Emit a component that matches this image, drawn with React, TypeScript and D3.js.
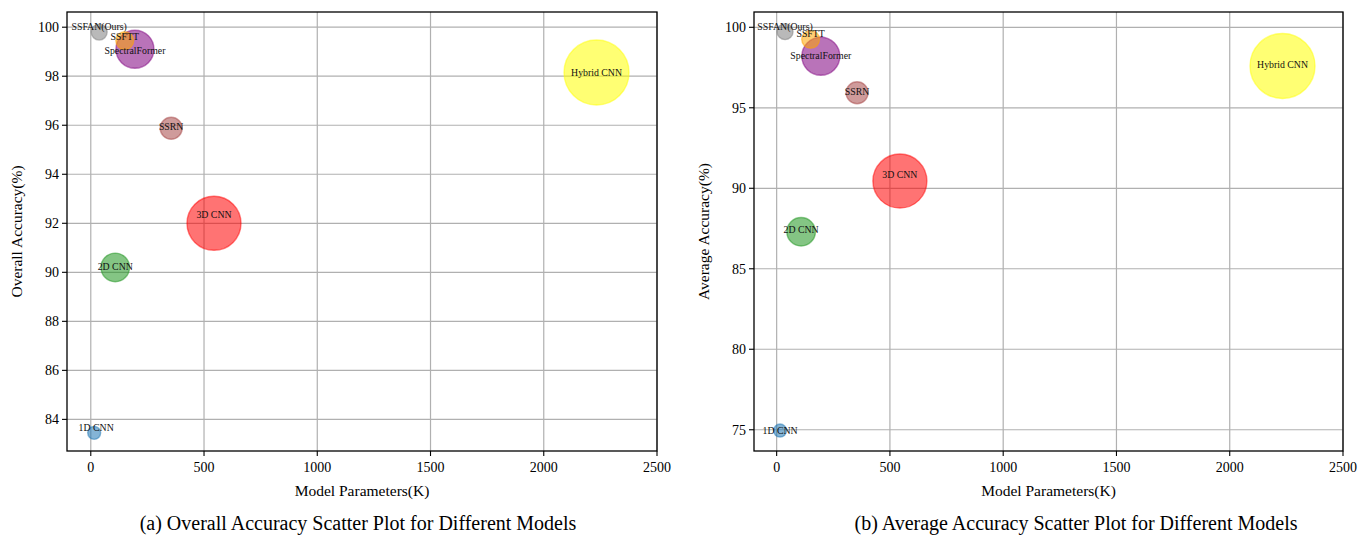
import React from "react";
import * as d3 from "d3";

const models = ["1D CNN", "2D CNN", "3D CNN", "Hybrid CNN", "SSRN", "SpectralFormer", "SSFTT", "SSFAN(Ours)"];
const params = [15, 108, 544, 2233, 355, 195, 150, 37];
const overallAcc = [83.45, 90.2, 92.0, 98.15, 95.88, 99.1, 99.45, 99.8];
const averageAcc = [74.95, 87.3, 90.45, 97.6, 95.93, 98.2, 99.25, 99.73];
const bubbleSize = [42, 204, 729, 1056, 121, 361, 80, 64];
const colors = ["#1f77b4", "#1f961f", "#ff0000", "#ffff00", "#a84848", "#800080", "#ffa500", "#808080"];
const labelDyOA = [-2, 3, -5, 3, 2, 5, -1, -2];
const labelDyAA = [3, 1, -3, 2, 2, 3, -2, -2];
const labelDxOA = [2, 0, 0, 0, 0, 0, 0, 0];
const xTicks = [0, 500, 1000, 1500, 2000, 2500];
const oaTicks = [84, 86, 88, 90, 92, 94, 96, 98, 100];
const aaTicks = [75, 80, 85, 90, 95, 100];

const FONT = "'Liberation Serif', 'Times New Roman', serif";

type PanelProps = {
  left: number; right: number; top: number; bottom: number;
  xDomain: [number, number]; yDomain: [number, number];
  yValues: number[]; yTicks: number[]; yLabel: string; caption: string; captionX: number;
  labelDy: number[]; labelDx: number[];
};

function Panel(p: PanelProps) {
  const x = d3.scaleLinear().domain(p.xDomain).range([p.left, p.right]);
  const y = d3.scaleLinear().domain(p.yDomain).range([p.bottom, p.top]);
  const r = d3.scaleSqrt().domain([0, d3.max(bubbleSize) as number]).range([0, 32.5]);
  const mid = (p.left + p.right) / 2;
  return (
    <g>
      {xTicks.map((t) => (
        <line key={"gx" + t} x1={x(t)} x2={x(t)} y1={p.top} y2={p.bottom} stroke="#b0b0b0" strokeWidth={1.2} />
      ))}
      {p.yTicks.map((t) => (
        <line key={"gy" + t} x1={p.left} x2={p.right} y1={y(t)} y2={y(t)} stroke="#b0b0b0" strokeWidth={1.2} />
      ))}
      {models.map((m, i) => (
        <circle key={"c" + m} cx={x(params[i])} cy={y(p.yValues[i])} r={r(bubbleSize[i])}
          fill={colors[i]} fillOpacity={0.55} stroke={colors[i]} strokeOpacity={0.5} strokeWidth={1.4} />
      ))}
      {models.map((m, i) => (
        <text key={"t" + m} x={x(params[i]) + p.labelDx[i]} y={y(p.yValues[i]) + p.labelDy[i]}
          textAnchor="middle" fontFamily={FONT} fontSize={9.8} fill="#111">{m}</text>
      ))}
      <rect x={p.left} y={p.top} width={p.right - p.left} height={p.bottom - p.top} fill="none" stroke="#000" strokeWidth={1.3} />
      {xTicks.map((t) => (
        <g key={"xt" + t}>
          <line x1={x(t)} x2={x(t)} y1={p.bottom} y2={p.bottom + 5} stroke="#000" strokeWidth={1.1} />
          <text x={x(t)} y={p.bottom + 21} textAnchor="middle" fontFamily={FONT} fontSize={14}>{t}</text>
        </g>
      ))}
      {p.yTicks.map((t) => (
        <g key={"yt" + t}>
          <line x1={p.left - 5} x2={p.left} y1={y(t)} y2={y(t)} stroke="#000" strokeWidth={1.1} />
          <text x={p.left - 8} y={y(t) + 5} textAnchor="end" fontFamily={FONT} fontSize={14}>{t}</text>
        </g>
      ))}
      <text x={mid} y={p.bottom + 45} textAnchor="middle" fontFamily={FONT} fontSize={15.5}>Model Parameters(K)</text>
      <text transform={`translate(${p.left - 45},${(p.top + p.bottom) / 2}) rotate(-90)`} textAnchor="middle"
        fontFamily={FONT} fontSize={15.5}>{p.yLabel}</text>
      <text x={p.captionX} y={p.bottom + 79} textAnchor="middle" fontFamily={FONT} fontSize={20}>{p.caption}</text>
    </g>
  );
}

export default function App() {
  return (
    <svg width={1372} height={537} style={{ position: "absolute", left: 0, top: 0, background: "#fff" }}>
      <rect width={1372} height={537} fill="#fff" />
      <Panel left={67} right={657} top={12} bottom={451} xDomain={[-105, 2500]} yDomain={[82.71, 100.62]}
        yValues={overallAcc} yTicks={oaTicks} yLabel="Overall Accuracy(%)"
        caption="(a) Overall Accuracy Scatter Plot for Different Models" captionX={358}
        labelDy={labelDyOA} labelDx={labelDxOA} />
      <Panel left={754} right={1343} top={12} bottom={451} xDomain={[-100, 2500]} yDomain={[73.68, 100.95]}
        yValues={averageAcc} yTicks={aaTicks} yLabel="Average Accuracy(%)"
        caption="(b) Average Accuracy Scatter Plot for Different Models" captionX={1076}
        labelDy={labelDyAA} labelDx={[0, 0, 0, 0, 0, 0, 0, 0]} />
    </svg>
  );
}
